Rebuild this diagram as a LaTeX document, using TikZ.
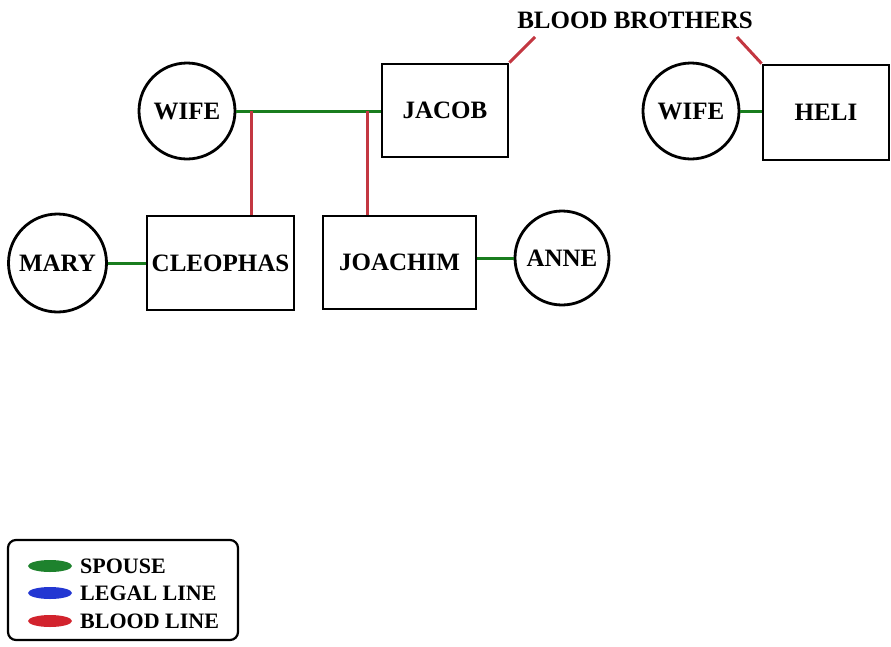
\documentclass[tikz,border=0pt]{standalone}
\usepackage{fontspec}
\setmainfont{Liberation Serif}
\usetikzlibrary{shapes.geometric}
\definecolor{spouse}{RGB}{25,125,30}
\definecolor{blood}{RGB}{195,55,65}
\definecolor{keygreen}{RGB}{30,130,45}
\definecolor{keyblue}{RGB}{35,55,210}
\definecolor{keyred}{RGB}{210,35,45}
\tikzset{
  person/.style={draw=black, line width=2.8pt, fill=white, inner sep=0pt,
    font=\fontsize{25}{25}\selectfont\bfseries},
  wifenode/.style={person, circle, minimum size=96pt},
  mannode/.style={person, rectangle},
  spouseline/.style={draw=spouse, line width=3pt},
  bloodline/.style={draw=blood, line width=3pt},
  legkey/.style={ellipse, inner sep=0pt, minimum width=44pt, minimum height=12pt},
  legtext/.style={anchor=west, inner sep=0pt, font=\fontsize{22}{22}\selectfont\bfseries}
}
\begin{document}
\begin{tikzpicture}[x=1pt, y=-1pt]
\useasboundingbox (0,0) rectangle (891,646);

% upper generation
\node[wifenode] (wife1) at (187,111) {WIFE};
\node[mannode, minimum width=126pt, minimum height=93pt] (jacob) at (445,110.5) {JACOB};
\node[wifenode] (wife2) at (691,111) {WIFE};
\node[mannode, minimum width=126pt, minimum height=95pt] (heli) at (826,112.5) {HELI};
\node[inner sep=0pt, font=\fontsize{25}{25}\selectfont\bfseries] (bb) at (635,20) {BLOOD BROTHERS};

% lower generation
\node[wifenode, minimum size=98pt] (mary) at (57.5,263) {MARY};
\node[mannode, minimum width=147pt, minimum height=94pt] (cleophas) at (220.5,263) {CLEOPHAS};
\node[mannode, minimum width=153pt, minimum height=93pt] (joachim) at (399.5,262.5) {JOACHIM};
\node[wifenode, minimum size=94pt] (anne) at (562,258) {ANNE};

% marriages
\draw[spouseline] (wife1.east) -- (wife1.east -| jacob.west);
\draw[spouseline] (wife2.east) -- (wife2.east -| heli.west);
\draw[spouseline] (mary.east) -- (mary.east -| cleophas.west);
\draw[spouseline] (anne.west -| joachim.east) -- (anne.west);

% descent from the first marriage
\coordinate (j1) at (251,111);
\coordinate (j2) at (367,111);
\draw[bloodline] (j1) -- (j1 |- cleophas.north);
\draw[bloodline] (j2) -- (j2 |- joachim.north);

% brothers
\coordinate (bbl) at (535,37);
\coordinate (bbr) at (737,37);
\draw[bloodline] (jacob.north east) -- (bbl);
\draw[bloodline] (heli.north west) -- (bbr);

% key
\node[draw=black, line width=2.2pt, rounded corners=8pt, minimum width=230pt, minimum height=100pt, inner sep=0pt] (key) at (123,590) {};
\node[legkey, fill=keygreen] (k1) at (50,566) {};
\node[legkey, fill=keyblue] (k2) at (50,593) {};
\node[legkey, fill=keyred] (k3) at (50,621) {};
\node[legtext] (t1) at (80,566) {SPOUSE};
\node[legtext] (t2) at (80,593) {LEGAL LINE};
\node[legtext] (t3) at (80,621) {BLOOD LINE};
\end{tikzpicture}
\end{document}
